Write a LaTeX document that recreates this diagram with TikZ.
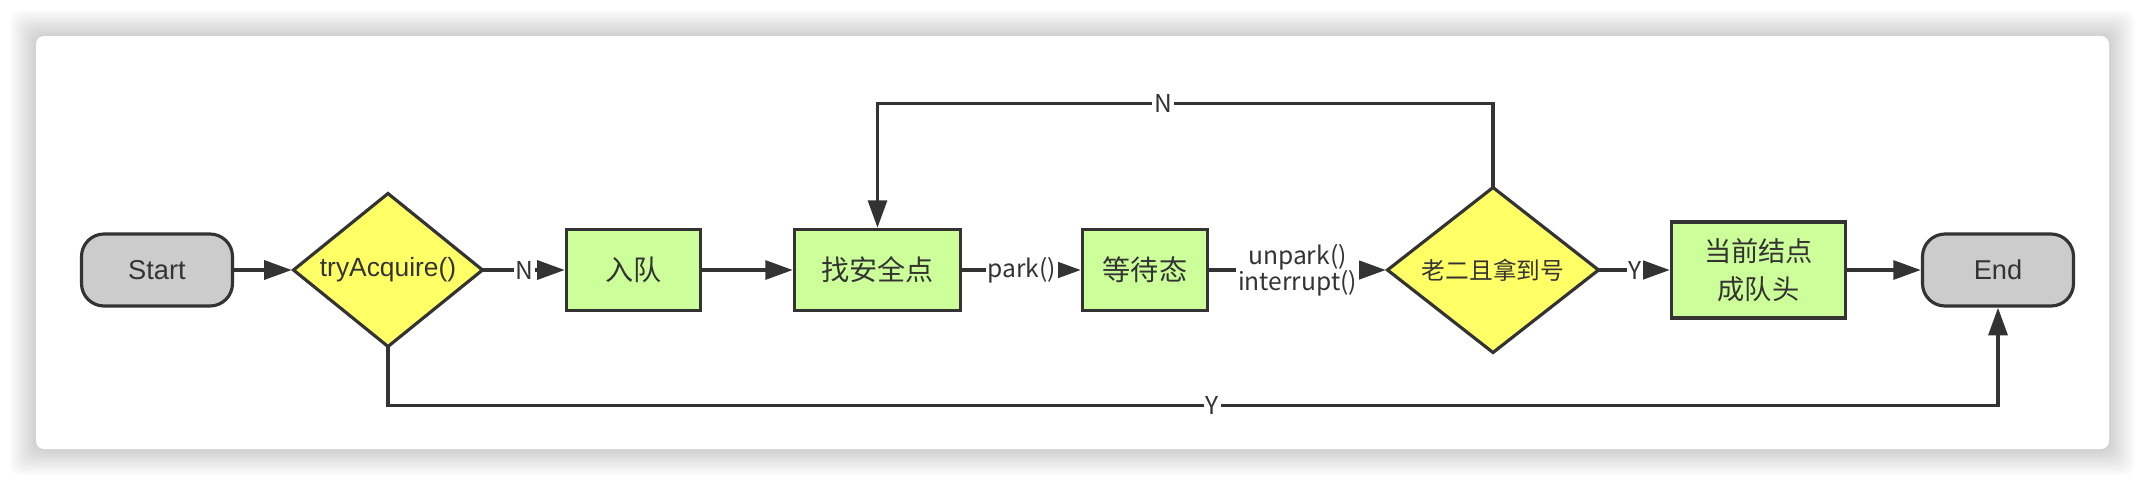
\documentclass[tikz,border=0pt]{standalone}
\usepackage{fontspec}
\setmainfont{Liberation Sans}
\newfontfamily\cjk{Noto Sans CJK SC}
\usepackage{tikz}
\usetikzlibrary{shapes.geometric, arrows.meta, positioning}
\definecolor{lineclr}{HTML}{333333}
\definecolor{termclr}{HTML}{CCCCCC}
\definecolor{decclr}{HTML}{FFFF66}
\definecolor{procclr}{HTML}{CCFF99}
\tikzset{
	term/.style={rectangle, rounded corners=0.45cm, draw=lineclr, fill=termclr, line width=1.8pt, minimum width=3.02cm, minimum height=1.44cm, font=\fontsize{15.5}{18}\selectfont, text=lineclr, outer sep=0pt},
	decision/.style={diamond, aspect=1.24, draw=lineclr, fill=decclr, line width=1.8pt, inner sep=0pt, outer sep=0pt, text=lineclr},
	proc/.style={rectangle, draw=lineclr, fill=procclr, line width=1.8pt, minimum height=1.62cm, inner sep=2pt, outer sep=0pt, font=\cjk\fontsize{16}{21.5}\selectfont, text=lineclr, align=center},
	conn/.style={-{Triangle[length=0.55cm, width=0.38cm]}, draw=lineclr, line width=1.8pt, shorten >=1pt},
	edge_label/.style={fill=white, inner sep=1pt, font=\cjk\fontsize{14}{15}\selectfont, text=lineclr, align=center},
	card/.style={fill=white, rounded corners=0.16cm},
	card_shadow/.style={fill=black, opacity=0.013, rounded corners=0.2cm}
}

\begin{document}
\begin{tikzpicture}[node distance=1.5cm, >=latex]
	\useasboundingbox (0,0) rectangle (42.92,-9.72);
	\foreach \s in {1,...,15}
		\path[card_shadow] (0.72-\s*0.035,-0.72+\s*0.035) rectangle (42.18+\s*0.035,-8.98-\s*0.035);
	\path[card] (0.72,-0.72) rectangle (42.18,-8.98);
	\node[term] (start) at (3.14,-5.4) {Start};
	\node[decision, minimum width=3.78cm, minimum height=3.06cm, right=1.22cm of start, font=\fontsize{15}{18}\selectfont] (acquire) {tryAcquire()};
	\node[proc, minimum width=2.68cm, right=1.68cm of acquire] (enqueue) {入队};
	\node[proc, minimum width=3.32cm, right=1.88cm of enqueue] (safepoint) {找安全点};
	\node[proc, minimum width=2.5cm, right=2.44cm of safepoint] (waiting) {等待态};
	\node[decision, aspect=1.28, minimum width=4.22cm, minimum height=3.3cm, right=3.6cm of waiting, font=\cjk\fontsize{13.5}{16}\selectfont] (second) {老二且拿到号};
	\node[proc, minimum width=3.48cm, minimum height=1.92cm, right=1.46cm of second, font=\cjk\fontsize{15.5}{21.5}\selectfont] (head) {当前结点\\成队头};
	\node[term, right=1.54cm of head] (end) {End};
	\draw[conn] (start) -- (acquire);
	\draw[conn] (acquire) -- node[edge_label] {N} (enqueue);
	\draw[conn] (enqueue) -- (safepoint);
	\draw[conn] (safepoint) -- node[edge_label] {park()} (waiting);
	\draw[conn] (waiting) -- node[edge_label] {unpark()\\interrupt()} (second);
	\draw[conn] (second) -- node[edge_label] {Y} (head);
	\draw[conn] (head) -- (end);
	\draw[conn] (second.north) -- ++(0,1.68) -| node[edge_label, pos=0.268] {N} (safepoint.north);
	\draw[conn] (acquire.south) -- ++(0,-1.18) -| node[edge_label, pos=0.256] {Y} (end.south);
\end{tikzpicture}
\end{document}
